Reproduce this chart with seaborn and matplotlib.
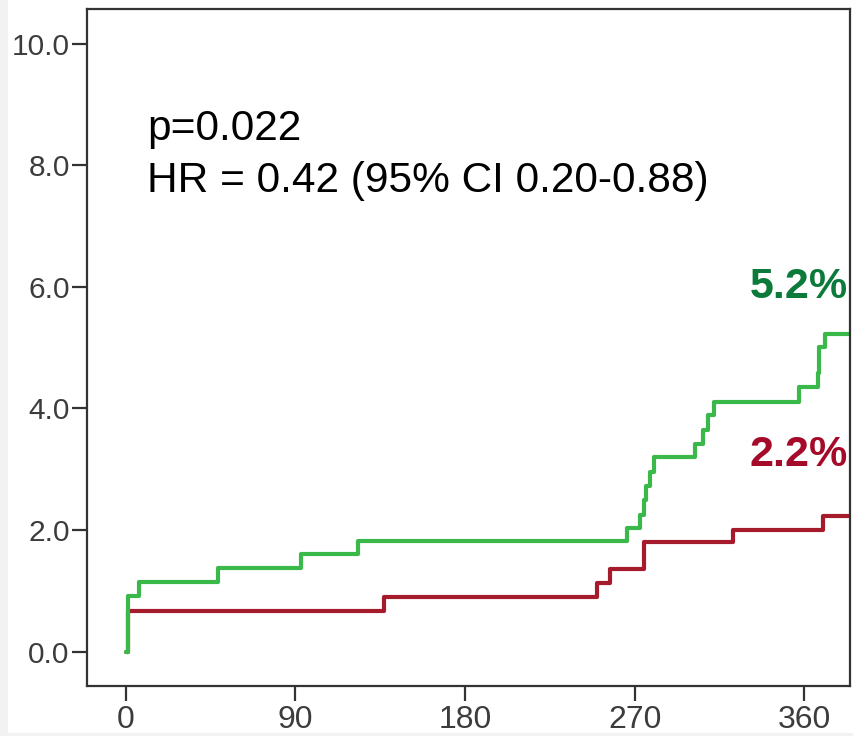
import numpy as np
import pandas as pd
import matplotlib
matplotlib.use("Agg")
import matplotlib.pyplot as plt
import seaborn as sns
from matplotlib.patches import Rectangle

# Cumulative incidence (%) step data
green_days = [0, 1, 7, 49, 93, 123, 266, 273, 275, 276, 278, 280, 302, 306, 309, 312, 357, 367, 368, 371, 384]
green_vals = [0.0, 0.92, 1.15, 1.37, 1.60, 1.82, 2.04, 2.25, 2.49, 2.72, 2.96, 3.20, 3.42, 3.64, 3.89, 4.11, 4.35, 4.59, 5.01, 5.23, 5.23]
red_days = [0, 1, 137, 250, 257, 275, 322, 370, 384]
red_vals = [0.0, 0.67, 0.89, 1.13, 1.35, 1.81, 2.00, 2.23, 2.23]

x_ticks = [0, 90, 180, 270, 360]
y_ticks = [0, 2, 4, 6, 8, 10]

p_text = "p=0.022"
hr_text = "HR = 0.42 (95% CI 0.20-0.88)"
green_label = "5.2%"
red_label = "2.2%"

sns.set_style("white")
plt.rcParams['font.family'] = ['Liberation Sans', 'DejaVu Sans']

fig = plt.figure(figsize=(8.54, 7.36), dpi=100)
ax = fig.add_axes([87/854, 50/736, (850-87)/854, (686-9)/736])

red_df = pd.DataFrame({"day": red_days, "pct": red_vals})
green_df = pd.DataFrame({"day": green_days, "pct": green_vals})

sns.lineplot(data=red_df, x="day", y="pct", drawstyle="steps-post", estimator=None,
             sort=False, color="#a51b2b", linewidth=3.0, ax=ax)
sns.lineplot(data=green_df, x="day", y="pct", drawstyle="steps-post", estimator=None,
             sort=False, color="#3bb84a", linewidth=3.0, ax=ax)

ax.set_xlim(-20.5, 384.2)
ax.set_ylim(-0.567, 10.57)
ax.set_xticks(x_ticks)
ax.set_xticklabels([str(t) for t in x_ticks])
ax.set_yticks(y_ticks)
ax.set_yticklabels([f"{t:.1f}" for t in y_ticks])
ax.set_xlabel("")
ax.set_ylabel("")

for s in ax.spines.values():
    s.set_visible(True)
    s.set_color("#333333")
    s.set_linewidth(1.6)

ax.tick_params(axis="both", which="major", length=11, width=1.6, color="#333333",
               labelcolor="#3c3c3c", direction="out")
ax.tick_params(axis="y", left=True, pad=1.5, labelsize=21.5)
ax.tick_params(axis="x", bottom=True, pad=3, labelsize=23)

ax.text(11.3, 8.41, p_text, fontsize=30.5, color="black", va="baseline", ha="left")
ax.text(11.3, 7.56, hr_text, fontsize=30.5, color="black", va="baseline", ha="left")

ax.text(0.997, 6.0, green_label, transform=ax.get_yaxis_transform(), fontsize=31,
        fontweight="bold", color="#0b7a3a", ha="right", va="center")
ax.text(0.997, 3.23, red_label, transform=ax.get_yaxis_transform(), fontsize=31,
        fontweight="bold", color="#a50a2a", ha="right", va="center")

# light gray frame strips at left and bottom edges
fig.patches.append(Rectangle((0, 0), 8/854, 1, transform=fig.transFigure,
                             facecolor="#f2f2f2", edgecolor="none", zorder=-1))
fig.patches.append(Rectangle((0, 0), 1, 3/736, transform=fig.transFigure,
                             facecolor="#f2f2f2", edgecolor="none", zorder=-1))

fig.savefig("out.png", dpi=100)
